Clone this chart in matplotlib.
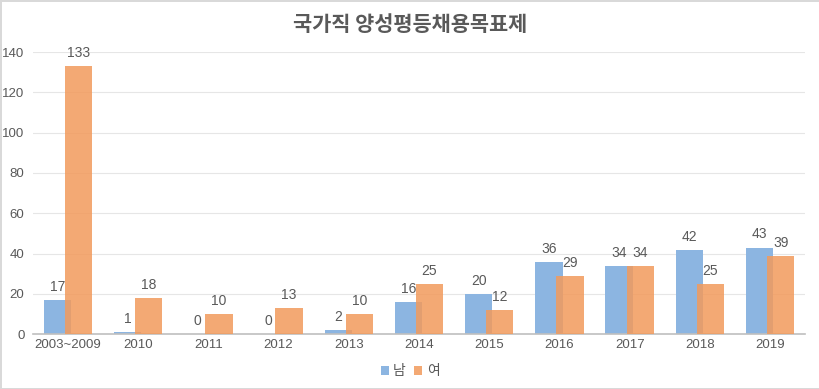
import numpy as np
import matplotlib
matplotlib.use('Agg')
import matplotlib.pyplot as plt

plt.rcParams['font.family'] = ['Liberation Sans', 'Noto Sans CJK KR', 'DejaVu Sans']

years = ['2003~2009', '2010', '2011', '2012', '2013', '2014', '2015',
         '2016', '2017', '2018', '2019']
male = [17, 1, 0, 0, 2, 16, 20, 36, 34, 42, 43]
female = [133, 18, 10, 13, 10, 25, 12, 29, 34, 25, 39]

blue = '#8cb5e1'
orange = '#f29a5c'
txt = '#595959'

fig = plt.figure(figsize=(8.2, 3.89), dpi=100)
fig.patch.set_edgecolor('#d9d9d9')
fig.patch.set_linewidth(2)
ax = fig.add_axes([0.040, 0.141, 0.942, 0.725])

x = np.arange(len(years))
w = 0.39
b1 = ax.bar(x - 0.15, male, w, color=blue, label='남', zorder=2)
b2 = ax.bar(x + 0.15, female, w, color=orange, alpha=0.85, label='여', zorder=3)

for xi, v in zip(x, male):
    ax.text(xi - 0.15, v + 3, str(v), ha='center', va='bottom', fontsize=10, color=txt)
for xi, v in zip(x, female):
    ax.text(xi + 0.15, v + 3, str(v), ha='center', va='bottom', fontsize=10, color=txt)

ax.set_ylim(0, 140)
ax.set_yticks(range(0, 141, 20))
ax.set_xlim(-0.5, len(years) - 0.5)
ax.set_xticks(x)
ax.set_xticklabels(years)
ax.tick_params(axis='both', length=0, labelsize=9.5, colors=txt)
ax.tick_params(axis='y', pad=6)
ax.grid(axis='y', color='#e6e6e6', linewidth=0.8, zorder=0)
for s in ['top', 'right', 'left']:
    ax.spines[s].set_visible(False)
ax.spines['bottom'].set_color('#bfbfbf')
ax.spines['bottom'].set_linewidth(1.2)

fig.suptitle('국가직 양성평등채용목표제', y=0.965, fontsize=15, color=txt, fontweight='bold',
             family=['Noto Sans CJK KR', 'DejaVu Sans'])

leg = fig.legend(handles=[b1, b2], loc='center', bbox_to_anchor=(0.5, 0.045), ncol=2,
                 frameon=False, fontsize=10, handlelength=0.6, handleheight=0.6,
                 handletextpad=0.3, columnspacing=0.6)
for t in leg.get_texts():
    t.set_color(txt)
    t.set_family(['Noto Sans CJK KR', 'DejaVu Sans'])

fig.savefig('out.png', dpi=100)
